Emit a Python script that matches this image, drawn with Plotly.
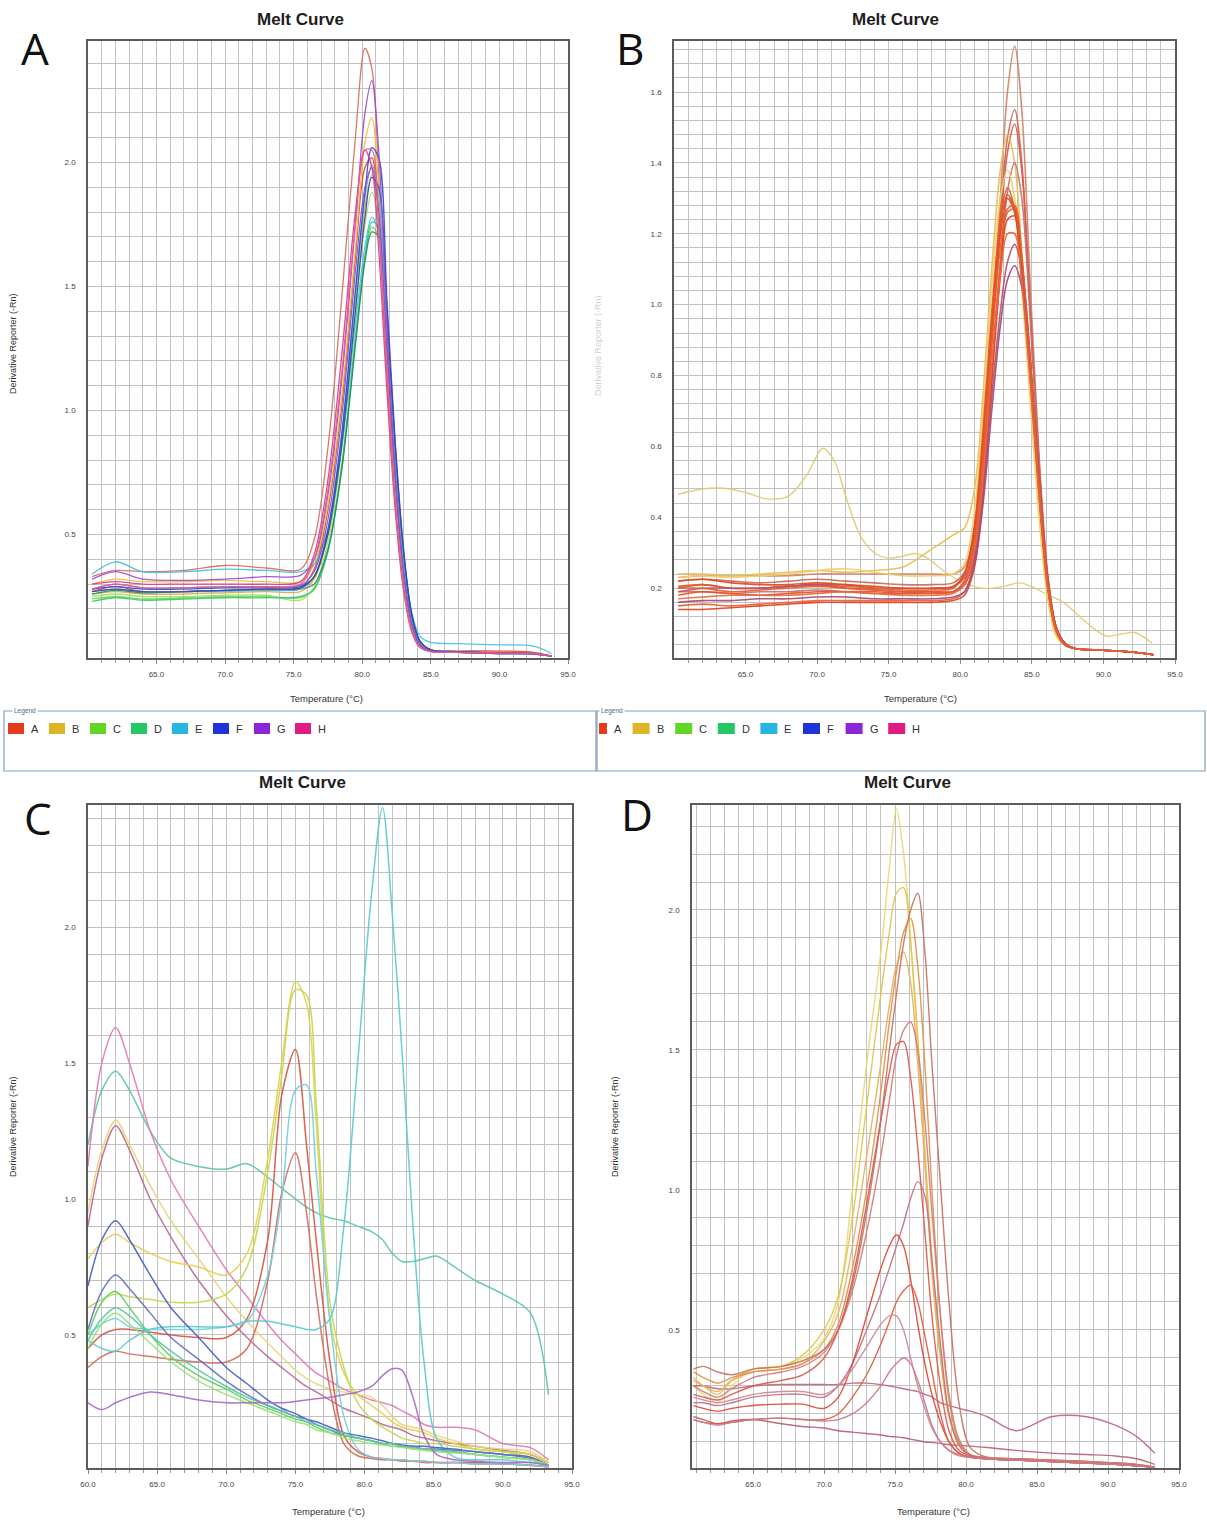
import plotly.graph_objects as go

W, H = 1207, 1522

# ---------------- Panel A data ----------------
TA = [60.3, 62, 64, 67, 70, 73, 75.5, 76.5, 77.5, 78.5, 79.5, 80.2, 80.7, 81.2, 81.8, 82.4, 83, 83.6, 84.2, 85, 87, 90, 92.5, 93.8]
A_A1 = [0.33, 0.355, 0.35, 0.355, 0.375, 0.365, 0.36, 0.48, 0.85, 1.45, 2.1, 2.46, 2.38, 1.95, 1.25, 0.68, 0.3, 0.12, 0.05, 0.03, 0.025, 0.02, 0.02, 0.01]
A_A2 = [0.27, 0.29, 0.27, 0.27, 0.275, 0.28, 0.285, 0.36, 0.6, 1.02, 1.62, 1.98, 2.02, 1.75, 1.15, 0.65, 0.3, 0.12, 0.05, 0.03, 0.03, 0.03, 0.025, 0.01]
A_B1 = [0.3, 0.32, 0.31, 0.31, 0.315, 0.31, 0.31, 0.38, 0.62, 1.05, 1.65, 2.08, 2.18, 1.9, 1.25, 0.7, 0.33, 0.13, 0.05, 0.03, 0.025, 0.02, 0.018, 0.01]
A_B2 = [0.26, 0.27, 0.26, 0.26, 0.265, 0.27, 0.27, 0.32, 0.5, 0.88, 1.45, 1.82, 1.95, 1.82, 1.3, 0.75, 0.37, 0.15, 0.06, 0.03, 0.025, 0.02, 0.018, 0.01]
A_C1 = [0.24, 0.25, 0.24, 0.245, 0.25, 0.25, 0.245, 0.28, 0.44, 0.78, 1.3, 1.62, 1.74, 1.7, 1.28, 0.78, 0.4, 0.16, 0.065, 0.035, 0.028, 0.022, 0.02, 0.01]
A_C2 = [0.25, 0.26, 0.25, 0.25, 0.255, 0.255, 0.235, 0.29, 0.47, 0.84, 1.4, 1.75, 1.88, 1.76, 1.28, 0.76, 0.38, 0.15, 0.06, 0.03, 0.025, 0.02, 0.018, 0.01]
A_D1 = [0.23, 0.245, 0.235, 0.24, 0.245, 0.245, 0.25, 0.28, 0.43, 0.76, 1.28, 1.62, 1.76, 1.74, 1.32, 0.82, 0.42, 0.17, 0.07, 0.035, 0.028, 0.022, 0.02, 0.01]
A_D2 = [0.26, 0.275, 0.265, 0.27, 0.275, 0.275, 0.28, 0.3, 0.44, 0.76, 1.26, 1.6, 1.72, 1.7, 1.3, 0.8, 0.41, 0.17, 0.07, 0.035, 0.028, 0.022, 0.02, 0.01]
A_E1 = [0.34, 0.39, 0.35, 0.35, 0.36, 0.355, 0.35, 0.38, 0.52, 0.85, 1.35, 1.66, 1.78, 1.72, 1.32, 0.82, 0.43, 0.19, 0.09, 0.065, 0.06, 0.055, 0.05, 0.02]
A_E2 = [0.27, 0.28, 0.27, 0.27, 0.27, 0.275, 0.28, 0.33, 0.52, 0.9, 1.48, 1.86, 1.99, 1.86, 1.32, 0.78, 0.38, 0.15, 0.06, 0.03, 0.025, 0.02, 0.018, 0.01]
A_F1 = [0.28, 0.29, 0.28, 0.28, 0.285, 0.285, 0.29, 0.33, 0.52, 0.9, 1.48, 1.88, 2.06, 2.02, 1.45, 0.88, 0.45, 0.18, 0.07, 0.035, 0.028, 0.022, 0.02, 0.01]
A_F2 = [0.27, 0.28, 0.27, 0.27, 0.275, 0.28, 0.285, 0.33, 0.5, 0.86, 1.4, 1.78, 1.94, 1.9, 1.4, 0.86, 0.44, 0.18, 0.07, 0.035, 0.028, 0.022, 0.02, 0.01]
A_G1 = [0.32, 0.35, 0.32, 0.315, 0.32, 0.33, 0.335, 0.4, 0.66, 1.12, 1.75, 2.2, 2.33, 2.05, 1.35, 0.75, 0.35, 0.14, 0.055, 0.03, 0.025, 0.02, 0.018, 0.01]
A_G2 = [0.28, 0.3, 0.285, 0.285, 0.29, 0.29, 0.295, 0.35, 0.56, 0.97, 1.56, 1.9, 1.98, 1.8, 1.25, 0.72, 0.35, 0.14, 0.055, 0.03, 0.025, 0.02, 0.018, 0.01]
A_H1 = [0.3, 0.31, 0.3, 0.3, 0.3, 0.3, 0.31, 0.42, 0.72, 1.22, 1.8, 2.05, 1.98, 1.65, 1.08, 0.6, 0.28, 0.11, 0.045, 0.028, 0.025, 0.022, 0.02, 0.01]
A_H2 = [0.28, 0.3, 0.285, 0.285, 0.29, 0.29, 0.3, 0.4, 0.68, 1.15, 1.75, 2.05, 2.05, 1.75, 1.15, 0.63, 0.29, 0.11, 0.045, 0.028, 0.025, 0.022, 0.02, 0.01]

# ---------------- Panel B data ----------------
TB = [60.3, 62, 64, 66, 68, 70, 72, 74, 76, 78, 79.5, 80.3, 81, 81.6, 82.2, 82.8, 83.3, 83.8, 84.3, 84.9, 85.5, 86.1, 86.7, 87.3, 88, 90, 92, 93.5]
B_01 = [0.23, 0.235, 0.235, 0.235, 0.235, 0.24, 0.24, 0.24, 0.24, 0.24, 0.24, 0.26, 0.36, 0.58, 0.92, 1.3, 1.6, 1.73, 1.55, 1.05, 0.58, 0.24, 0.09, 0.045, 0.03, 0.025, 0.02, 0.012]
B_02 = [0.22, 0.225, 0.22, 0.215, 0.22, 0.225, 0.22, 0.215, 0.21, 0.21, 0.215, 0.245, 0.36, 0.58, 0.9, 1.25, 1.47, 1.55, 1.4, 0.98, 0.55, 0.23, 0.09, 0.045, 0.03, 0.025, 0.02, 0.012]
B_03 = [0.2, 0.21, 0.2, 0.2, 0.205, 0.21, 0.21, 0.2, 0.2, 0.2, 0.205, 0.23, 0.33, 0.55, 0.88, 1.22, 1.43, 1.51, 1.38, 0.98, 0.56, 0.24, 0.09, 0.045, 0.03, 0.025, 0.02, 0.012]
B_04 = [0.24, 0.24, 0.235, 0.24, 0.245, 0.25, 0.245, 0.25, 0.26, 0.31, 0.35, 0.37, 0.48, 0.75, 1.1, 1.38, 1.48, 1.4, 1.15, 0.8, 0.45, 0.19, 0.07, 0.04, 0.03, 0.025, 0.02, 0.012]
B_05 = [0.19, 0.19, 0.185, 0.19, 0.19, 0.195, 0.19, 0.185, 0.185, 0.19, 0.19, 0.21, 0.3, 0.5, 0.8, 1.1, 1.32, 1.4, 1.3, 0.95, 0.55, 0.23, 0.09, 0.045, 0.03, 0.025, 0.02, 0.012]
B_06 = [0.23, 0.235, 0.23, 0.235, 0.24, 0.25, 0.255, 0.245, 0.235, 0.235, 0.24, 0.27, 0.42, 0.7, 1.05, 1.3, 1.38, 1.3, 1.05, 0.72, 0.4, 0.17, 0.065, 0.04, 0.03, 0.025, 0.02, 0.012]
B_07 = [0.205, 0.21, 0.2, 0.2, 0.205, 0.21, 0.205, 0.2, 0.195, 0.195, 0.2, 0.24, 0.38, 0.65, 0.98, 1.24, 1.33, 1.27, 1.08, 0.78, 0.46, 0.2, 0.08, 0.04, 0.03, 0.025, 0.02, 0.012]
B_08 = [0.22, 0.225, 0.215, 0.21, 0.21, 0.215, 0.21, 0.205, 0.2, 0.2, 0.205, 0.24, 0.37, 0.62, 0.94, 1.2, 1.3, 1.26, 1.08, 0.8, 0.48, 0.21, 0.08, 0.04, 0.03, 0.025, 0.02, 0.012]
B_09 = [0.15, 0.155, 0.15, 0.155, 0.16, 0.165, 0.165, 0.165, 0.165, 0.165, 0.17, 0.19, 0.28, 0.5, 0.82, 1.12, 1.26, 1.27, 1.12, 0.83, 0.5, 0.22, 0.085, 0.042, 0.03, 0.025, 0.02, 0.012]
B_10 = [0.14, 0.14, 0.145, 0.15, 0.155, 0.16, 0.16, 0.16, 0.16, 0.16, 0.165, 0.18, 0.26, 0.46, 0.78, 1.08, 1.24, 1.25, 1.12, 0.84, 0.52, 0.23, 0.09, 0.045, 0.03, 0.025, 0.02, 0.012]
B_11 = [0.18, 0.19, 0.185, 0.18, 0.185, 0.19, 0.19, 0.19, 0.185, 0.185, 0.19, 0.22, 0.34, 0.6, 0.93, 1.2, 1.31, 1.27, 1.1, 0.8, 0.48, 0.21, 0.08, 0.04, 0.03, 0.025, 0.02, 0.012]
B_12 = [0.19, 0.2, 0.2, 0.2, 0.205, 0.21, 0.2, 0.195, 0.19, 0.19, 0.19, 0.21, 0.29, 0.47, 0.74, 0.98, 1.12, 1.17, 1.1, 0.84, 0.52, 0.23, 0.09, 0.045, 0.03, 0.025, 0.02, 0.012]
B_13 = [0.16, 0.165, 0.165, 0.17, 0.17, 0.175, 0.175, 0.17, 0.17, 0.17, 0.175, 0.19, 0.27, 0.44, 0.7, 0.94, 1.07, 1.11, 1.05, 0.82, 0.5, 0.22, 0.085, 0.042, 0.03, 0.025, 0.02, 0.012]
B_15 = [0.17, 0.175, 0.18, 0.18, 0.18, 0.185, 0.19, 0.185, 0.18, 0.18, 0.185, 0.21, 0.31, 0.52, 0.83, 1.08, 1.2, 1.2, 1.06, 0.78, 0.47, 0.21, 0.08, 0.04, 0.03, 0.025, 0.02, 0.012]
B_16 = [0.2, 0.2, 0.19, 0.195, 0.2, 0.205, 0.2, 0.195, 0.19, 0.19, 0.19, 0.22, 0.33, 0.57, 0.9, 1.16, 1.27, 1.28, 1.14, 0.84, 0.5, 0.22, 0.085, 0.042, 0.03, 0.025, 0.02, 0.012]
TB_ABN = [60.3, 62, 63.5, 65, 66.5, 68, 69.3, 70.4, 71.2, 72, 73, 74, 75, 76, 76.8, 77.7, 78.8, 80, 81.5, 83, 84.2, 85.2, 86.2, 87.2, 88.2, 89.2, 90.2, 91.2, 92.2, 93.4]
B_14 = [0.465, 0.48, 0.482, 0.47, 0.452, 0.46, 0.52, 0.595, 0.56, 0.46, 0.35, 0.3, 0.285, 0.29, 0.298, 0.285, 0.25, 0.22, 0.2, 0.205, 0.215, 0.2, 0.18, 0.16, 0.125, 0.09, 0.065, 0.07, 0.075, 0.045]

# ---------------- Panel C data ----------------
TC = [60, 61, 62, 63, 64.5, 66, 68, 70, 71.5, 73, 74, 75, 75.8, 76.5, 77.5, 78.5, 79.5, 80.5, 81.3, 82, 82.7, 83.5, 84.3, 85.2, 86.5, 88, 90, 92, 93.3]
C_H1 = [1.12, 1.5, 1.63, 1.5, 1.25, 1.07, 0.9, 0.74, 0.64, 0.54, 0.48, 0.43, 0.39, 0.36, 0.33, 0.3, 0.28, 0.26, 0.25, 0.24, 0.22, 0.2, 0.17, 0.16, 0.16, 0.15, 0.1, 0.085, 0.04]
C_D1 = [1.2, 1.4, 1.47, 1.4, 1.25, 1.15, 1.12, 1.11, 1.13, 1.08, 1.04, 1.0, 0.97, 0.95, 0.93, 0.92, 0.9, 0.88, 0.85, 0.8, 0.77, 0.77, 0.78, 0.79, 0.75, 0.7, 0.65, 0.58, 0.28]
C_H2 = [0.9, 1.15, 1.27, 1.18, 1.0, 0.86, 0.7, 0.57, 0.49, 0.42, 0.38, 0.34, 0.31, 0.29, 0.26, 0.23, 0.21, 0.19, 0.17, 0.16, 0.15, 0.13, 0.12, 0.11, 0.1, 0.09, 0.075, 0.06, 0.03]
C_B1 = [0.95, 1.18, 1.29, 1.2, 1.05, 0.92, 0.78, 0.64, 0.55, 0.47, 0.42, 0.37, 0.34, 0.32, 0.3, 0.29, 0.28, 0.27, 0.24, 0.2, 0.17, 0.16, 0.15, 0.13, 0.11, 0.09, 0.08, 0.07, 0.03]
C_B2 = [0.78, 0.84, 0.87, 0.84, 0.8, 0.77, 0.75, 0.72, 0.8, 1.15, 1.5, 1.8, 1.72, 1.28, 0.56, 0.36, 0.28, 0.24, 0.21, 0.18, 0.16, 0.15, 0.14, 0.12, 0.1, 0.08, 0.07, 0.06, 0.03]
C_C1 = [0.6, 0.63, 0.65, 0.64, 0.63, 0.62, 0.62, 0.65, 0.75, 1.1, 1.45, 1.77, 1.75, 1.35, 0.62, 0.38, 0.25, 0.19, 0.16, 0.14, 0.12, 0.11, 0.1, 0.1, 0.09, 0.08, 0.07, 0.05, 0.03]
C_A1 = [0.45, 0.5, 0.52, 0.52, 0.51, 0.5, 0.49, 0.49, 0.56, 0.85, 1.38, 1.55, 1.2, 0.85, 0.4, 0.13, 0.07, 0.05, 0.045, 0.04, 0.04, 0.035, 0.035, 0.03, 0.03, 0.03, 0.025, 0.02, 0.015]
C_A2 = [0.38, 0.42, 0.44, 0.43, 0.42, 0.41, 0.4, 0.4, 0.45, 0.7, 1.02, 1.17, 0.95, 0.65, 0.3, 0.1, 0.055, 0.045, 0.04, 0.04, 0.035, 0.035, 0.03, 0.03, 0.03, 0.025, 0.025, 0.02, 0.015]
C_E1 = [0.5, 0.54, 0.56, 0.53, 0.52, 0.52, 0.52, 0.53, 0.55, 0.72, 1.0, 1.4, 1.42, 1.1, 0.55, 0.2, 0.08, 0.05, 0.045, 0.04, 0.04, 0.035, 0.035, 0.03, 0.03, 0.025, 0.025, 0.02, 0.015]
C_E2 = [0.48, 0.45, 0.44, 0.48, 0.52, 0.53, 0.53, 0.53, 0.55, 0.55, 0.54, 0.53, 0.52, 0.52, 0.56, 0.9, 1.5, 2.12, 2.44, 2.05, 1.55, 0.9, 0.4, 0.12, 0.05, 0.04, 0.04, 0.03, 0.02]
C_F1 = [0.68, 0.85, 0.92, 0.85, 0.72, 0.6, 0.49, 0.38, 0.32, 0.26, 0.23, 0.21, 0.19, 0.18, 0.16, 0.14, 0.13, 0.12, 0.11, 0.1, 0.095, 0.09, 0.09, 0.085, 0.08, 0.07, 0.06, 0.05, 0.02]
C_F2 = [0.52, 0.66, 0.72, 0.67, 0.58, 0.49, 0.41, 0.33, 0.28, 0.24, 0.22, 0.2, 0.19, 0.17, 0.15, 0.13, 0.12, 0.11, 0.1, 0.1, 0.09, 0.09, 0.08, 0.08, 0.075, 0.07, 0.06, 0.045, 0.02]
C_CG = [0.5, 0.62, 0.66, 0.6, 0.5, 0.42, 0.35, 0.3, 0.26, 0.23, 0.21, 0.19, 0.18, 0.16, 0.14, 0.13, 0.12, 0.11, 0.1, 0.09, 0.09, 0.08, 0.08, 0.075, 0.07, 0.06, 0.05, 0.04, 0.02]
C_DG = [0.48, 0.56, 0.6, 0.57, 0.5, 0.44, 0.37, 0.31, 0.27, 0.24, 0.22, 0.2, 0.18, 0.17, 0.15, 0.14, 0.12, 0.11, 0.1, 0.1, 0.09, 0.085, 0.08, 0.075, 0.07, 0.06, 0.05, 0.04, 0.02]
C_C2 = [0.45, 0.54, 0.58, 0.54, 0.47, 0.4, 0.33, 0.28, 0.25, 0.22, 0.2, 0.18, 0.17, 0.15, 0.14, 0.12, 0.11, 0.1, 0.095, 0.09, 0.085, 0.08, 0.075, 0.07, 0.065, 0.06, 0.05, 0.04, 0.02]
C_G1 = [0.25, 0.225, 0.25, 0.27, 0.29, 0.28, 0.26, 0.25, 0.25, 0.25, 0.25, 0.255, 0.26, 0.265, 0.27, 0.28, 0.29, 0.31, 0.35, 0.375, 0.37, 0.27, 0.13, 0.06, 0.04, 0.035, 0.03, 0.03, 0.02]

# ---------------- Panel D data ----------------
TD = [60.8, 61.5, 62.5, 63.5, 65, 67, 68.5, 70, 71, 72, 73, 74, 74.6, 75.1, 75.6, 76.1, 76.6, 77.1, 77.6, 78.2, 78.8, 79.5, 80.3, 81.5, 83.5, 86, 88.5, 90.5, 92, 93.3]
D_Y1 = [0.3, 0.27, 0.24, 0.3, 0.36, 0.37, 0.4, 0.47, 0.6, 1.0, 1.45, 1.85, 2.15, 2.36, 2.2, 1.9, 1.5, 1.1, 0.7, 0.4, 0.2, 0.09, 0.05, 0.04, 0.035, 0.03, 0.025, 0.02, 0.015, 0.01]
D_Y2 = [0.33, 0.3, 0.27, 0.32, 0.36, 0.37, 0.41, 0.5, 0.62, 0.9, 1.3, 1.7, 1.92, 2.06, 2.08, 1.88, 1.55, 1.15, 0.75, 0.42, 0.2, 0.09, 0.05, 0.04, 0.035, 0.03, 0.025, 0.02, 0.015, 0.01]
D_Y3 = [0.32, 0.3, 0.28, 0.32, 0.35, 0.36, 0.38, 0.46, 0.56, 0.8, 1.12, 1.45, 1.66, 1.8, 1.85, 1.74, 1.45, 1.1, 0.72, 0.4, 0.19, 0.09, 0.05, 0.04, 0.035, 0.03, 0.025, 0.02, 0.015, 0.01]
D_O1 = [0.35, 0.33, 0.31, 0.33, 0.35, 0.36, 0.38, 0.43, 0.52, 0.72, 1.0, 1.35, 1.6, 1.78, 1.92, 1.97, 1.8, 1.45, 1.0, 0.55, 0.25, 0.1, 0.055, 0.045, 0.04, 0.035, 0.03, 0.025, 0.02, 0.01]
D_R1 = [0.36, 0.37, 0.35, 0.34, 0.36, 0.37, 0.39, 0.43, 0.5, 0.66, 0.92, 1.25, 1.5, 1.7, 1.88, 2.0, 2.06, 1.85, 1.45, 1.02, 0.6, 0.24, 0.08, 0.045, 0.04, 0.035, 0.03, 0.025, 0.02, 0.01]
D_P1 = [0.3, 0.28, 0.26, 0.29, 0.33, 0.35, 0.37, 0.42, 0.5, 0.64, 0.85, 1.12, 1.32, 1.48, 1.57, 1.6, 1.5, 1.25, 0.92, 0.55, 0.27, 0.11, 0.055, 0.045, 0.04, 0.035, 0.03, 0.025, 0.02, 0.01]
D_R2 = [0.27, 0.26, 0.25, 0.27, 0.3, 0.32, 0.34, 0.4, 0.5, 0.68, 0.95, 1.25, 1.42, 1.52, 1.53, 1.4, 1.15, 0.85, 0.55, 0.3, 0.14, 0.07, 0.05, 0.04, 0.035, 0.03, 0.025, 0.02, 0.015, 0.01]
D_M1 = [0.24, 0.24, 0.23, 0.24, 0.26, 0.27, 0.27, 0.26, 0.3, 0.38, 0.5, 0.63, 0.72, 0.8, 0.88, 0.97, 1.03, 0.98, 0.75, 0.45, 0.2, 0.09, 0.05, 0.04, 0.035, 0.03, 0.025, 0.02, 0.015, 0.01]
D_R3 = [0.23, 0.22, 0.21, 0.22, 0.23, 0.235, 0.235, 0.22, 0.26, 0.38, 0.55, 0.72, 0.8, 0.84, 0.8, 0.68, 0.52, 0.38, 0.27, 0.17, 0.1, 0.06, 0.045, 0.04, 0.035, 0.03, 0.025, 0.02, 0.015, 0.01]
D_R4 = [0.18, 0.17, 0.165, 0.17, 0.18, 0.185, 0.18, 0.18, 0.2, 0.26, 0.34, 0.45, 0.53, 0.6, 0.64, 0.66, 0.6, 0.48, 0.35, 0.2, 0.1, 0.06, 0.045, 0.04, 0.035, 0.03, 0.025, 0.02, 0.015, 0.01]
D_P2 = [0.26, 0.25, 0.24, 0.25, 0.27, 0.28, 0.28, 0.27, 0.3, 0.36, 0.44, 0.52, 0.55, 0.55, 0.5, 0.4, 0.3, 0.22, 0.15, 0.1, 0.07, 0.05, 0.045, 0.04, 0.035, 0.03, 0.025, 0.02, 0.015, 0.01]
D_M2 = [0.18, 0.17, 0.16, 0.17, 0.18, 0.185, 0.18, 0.175, 0.18, 0.2, 0.24, 0.3, 0.35, 0.38, 0.4, 0.38, 0.32, 0.24, 0.16, 0.1, 0.07, 0.055, 0.045, 0.04, 0.035, 0.03, 0.025, 0.02, 0.015, 0.01]
D_M3 = [0.3, 0.3, 0.29, 0.29, 0.3, 0.305, 0.305, 0.305, 0.305, 0.31, 0.31, 0.305, 0.3, 0.295, 0.29, 0.285, 0.28, 0.27, 0.26, 0.24, 0.23, 0.22, 0.21, 0.19, 0.14, 0.19, 0.19, 0.16, 0.12, 0.06]
D_M4 = [0.19, 0.18, 0.165, 0.175, 0.18, 0.165, 0.155, 0.15, 0.14, 0.135, 0.13, 0.125, 0.12, 0.118, 0.115, 0.11, 0.105, 0.1, 0.098, 0.095, 0.09, 0.088, 0.085, 0.08, 0.07, 0.06, 0.055, 0.05, 0.04, 0.02]

# ---------------- labels ----------------
LEGEND_LABELS = ["A", "B", "C", "D", "E", "F", "G", "H"]
LEGEND_COLORS = ["#e23c1c", "#dcb624", "#62d624", "#22c864", "#26b6e0", "#1c34d8", "#8a26d8", "#e01c84"]
PANEL_LETTERS = ["A", "B", "C", "D"]
TITLE = "Melt Curve"
XTITLE = "Temperature (°C)"
YTITLE = "Derivative Reporter (-Rn)"

# ---------------- series/colour tables ----------------
SER_A = [(A_A1, "#d6705c"), (A_A2, "#e2452a"), (A_B1, "#e8c23a"), (A_B2, "#d8b040"),
         (A_C1, "#74d844"), (A_C2, "#a2e064"), (A_D1, "#34c87a"), (A_D2, "#228a72"),
         (A_E1, "#44c2e2"), (A_E2, "#62b0e0"), (A_F1, "#3050d2"), (A_F2, "#3a48a8"),
         (A_G1, "#a24ad8"), (A_G2, "#8a52c8"), (A_H1, "#e03a8a"), (A_H2, "#e2608e")]
SER_B = [(B_01, "#d4846a"), (B_02, "#c86c5c"), (B_03, "#d85c42"), (B_04, "#e8c052"),
         (B_05, "#c4727a"), (B_06, "#f0d06a"), (B_07, "#e85a28"), (B_08, "#e04a20"),
         (B_09, "#ea6230"), (B_10, "#e04220"), (B_11, "#e85222"), (B_12, "#b85272"),
         (B_13, "#a44a7a"), (B_15, "#e86c3c"), (B_16, "#e65e2e")]
SER_C = [(C_D1, "#5cc8a0"), (C_H1, "#e67ab8"), (C_H2, "#bc6c92"), (C_B1, "#ead67a"),
         (C_B2, "#e8d050"), (C_C1, "#c2da52"), (C_A1, "#d85646"), (C_A2, "#d86c5c"),
         (C_E1, "#72d2e2"), (C_E2, "#5ecad2"), (C_F1, "#4860c8"), (C_F2, "#6272c4"),
         (C_CG, "#62d262"), (C_DG, "#58c8a8"), (C_C2, "#9ce272"), (C_G1, "#a86ac8")]
SER_D = [(D_M3, "#bc6a7a"), (D_M4, "#b86272"), (D_Y1, "#e8d874"), (D_Y2, "#e2c44a"),
         (D_Y3, "#e8b062"), (D_O1, "#e2904a"), (D_R1, "#c87262"), (D_P1, "#d47a7a"),
         (D_R2, "#da5a4e"), (D_M1, "#c27282"), (D_R3, "#e24636"), (D_R4, "#e25a42"),
         (D_P2, "#d2889a"), (D_M2, "#c87a8a")]

fig = go.Figure()


def add_panel(T, series, xa, ya, width):
    for vals, col in series:
        assert len(vals) == len(T), (len(vals), len(T))
        fig.add_trace(go.Scatter(x=T, y=vals, mode="lines", xaxis=xa, yaxis=ya,
                                 line=dict(color=col, width=width, shape="spline", smoothing=0.9),
                                 opacity=0.92, showlegend=False, hoverinfo="skip"))


add_panel(TA, SER_A, "x", "y", 1.3)
add_panel(TB_ABN, [(B_14, "#e2cc74")], "x2", "y2", 1.4)
add_panel(TB, SER_B, "x2", "y2", 1.6)
add_panel(TC, SER_C, "x3", "y3", 1.5)
add_panel(TD, SER_D, "x4", "y4", 1.4)


def fx(p):
    return p / W


def fy(p):
    return 1 - p / H


GRID = "#c2c2c2"
TICKFONT = dict(family="Liberation Sans, Arial, sans-serif", size=8, color="#444")


def xcfg(x0, x1, rng, anchor):
    return dict(domain=[fx(x0), fx(x1)], range=rng, anchor=anchor,
                tickmode="linear", tick0=60, dtick=5, tickformat=".1f",
                showline=True, mirror=True, linecolor="#5c5c5c", linewidth=1.5,
                showgrid=True, gridcolor=GRID, gridwidth=1, zeroline=False,
                ticks="outside", ticklen=4, tickcolor="#888", tickfont=TICKFONT,
                ticklabelstandoff=4, automargin=False,
                minor=dict(tickmode="linear", tick0=60, dtick=1, showgrid=True, gridcolor=GRID,
                           gridwidth=1, ticks="outside", ticklen=3, tickcolor="#999"),
                fixedrange=True)


def ycfg(y0, y1, rng, dt, mdt, anchor):
    return dict(domain=[fy(y1), fy(y0)], range=rng, anchor=anchor,
                tickmode="linear", tick0=0, dtick=dt, tickformat=".1f",
                showline=True, mirror=True, linecolor="#5c5c5c", linewidth=1.5,
                showgrid=True, gridcolor=GRID, gridwidth=1, zeroline=False,
                ticks="", tickfont=TICKFONT, ticklabelstandoff=9, automargin=False,
                minor=dict(tickmode="linear", tick0=0, dtick=mdt, showgrid=True, gridcolor=GRID,
                           gridwidth=1),
                fixedrange=True)


fig.update_layout(
    xaxis=xcfg(88, 568, [60.01, 95], "y"),
    yaxis=ycfg(41, 658, [0.002, 2.49], 0.5, 0.1, "x"),
    xaxis2=xcfg(674, 1175, [60.01, 95], "y2"),
    yaxis2=ycfg(41, 658, [0.003, 1.744], 0.2, 0.04, "x2"),
    xaxis3=xcfg(88, 572, [60, 95], "y3"),
    yaxis3=ycfg(805, 1468, [0.01, 2.45], 0.5, 0.1, "x3"),
    xaxis4=xcfg(692, 1179, [60.7, 95], "y4"),
    yaxis4=ycfg(805, 1468, [0.007, 2.375], 0.5, 0.1, "x4"),
)

ann = []
shapes = []


def text(x, y, s, size, color="#222", bold=False, family="Liberation Sans, Arial, sans-serif",
         angle=0, xanchor="center", bg=None):
    d = dict(x=fx(x), y=fy(y), xref="paper", yref="paper", text=("<b>%s</b>" % s) if bold else s,
             showarrow=False, xanchor=xanchor, yanchor="middle", textangle=angle,
             font=dict(family=family, size=size, color=color))
    if bg:
        d["bgcolor"] = bg
    ann.append(d)


# titles
for (x, y) in [(300, 20), (895, 20), (302, 782), (907, 782)]:
    text(x, y, TITLE, 17, "#1e1e1e", bold=True)
# panel letters
for s, (x, y) in zip(PANEL_LETTERS, [(35, 48), (630, 48), (38, 818), (637, 814)]):
    text(x, y, s, 44, "#111", family="Open Sans, Noto Sans, sans-serif")
# axis titles
for (x, y) in [(326, 698), (920, 698), (328, 1511), (933, 1511)]:
    text(x, y, XTITLE, 9.5, "#333")
for (x, y, c) in [(13, 344, "#333"), (13, 1127, "#333"), (615, 1127, "#333"), (598, 346, "rgba(110,110,110,0.35)")]:
    text(x, y, YTITLE, 9, c, angle=-90)

# legend boxes
for (x0, x1) in [(4, 596), (597, 1205)]:
    shapes.append(dict(type="rect", xref="paper", yref="paper", x0=fx(x0), x1=fx(x1),
                       y0=fy(771), y1=fy(711), line=dict(color="#7f9db9", width=1.2),
                       fillcolor="white", layer="below"))
text(12, 711, "Legend", 6.5, "#4a6a8a", xanchor="left", bg="white")
text(599, 711, "Legend", 6.5, "#4a6a8a", xanchor="left", bg="white")

for i, (lab, col) in enumerate(zip(LEGEND_LABELS, LEGEND_COLORS)):
    # panel A legend
    sx = 8 + i * 41.0
    shapes.append(dict(type="rect", xref="paper", yref="paper", x0=fx(sx), x1=fx(sx + 16),
                       y0=fy(734), y1=fy(723), line=dict(width=0), fillcolor=col))
    text(sx + 21, 728.5, lab, 11, "#333", xanchor="left")
    # panel B legend
    bx = 590 + i * 42.6
    bx0 = max(bx, 599)
    shapes.append(dict(type="rect", xref="paper", yref="paper", x0=fx(bx0), x1=fx(bx + 17),
                       y0=fy(734), y1=fy(723), line=dict(width=0), fillcolor=col))
    text(bx + 22, 728.5, lab, 11, "#333", xanchor="left")

fig.update_layout(width=W, height=H, margin=dict(l=0, r=0, t=0, b=0, pad=0, autoexpand=False),
                  paper_bgcolor="white", plot_bgcolor="white", showlegend=False,
                  annotations=ann, shapes=shapes)

fig.write_html("out.html",
               post_script="document.body.style.margin='0px';document.body.style.padding='0px';")
